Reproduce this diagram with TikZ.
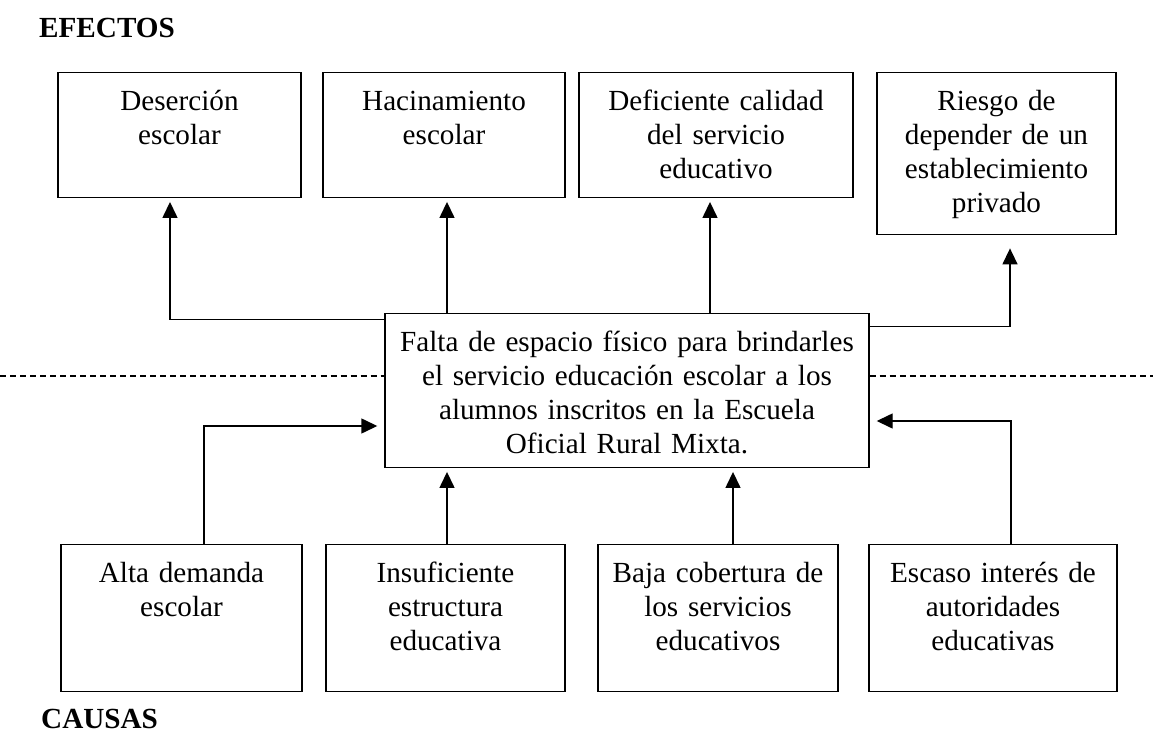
\documentclass[tikz,border=0pt]{standalone}
\usepackage{fontspec}
\setmainfont{Liberation Serif}
\usetikzlibrary{arrows.meta, positioning, calc}
\newcommand{\cuerpo}{\fontsize{16.6}{19.3}\selectfont}

\begin{document}
\begin{tikzpicture}[font=\cuerpo]
    \tikzset{
        caja/.style={rectangle, draw, line width=0.8pt, inner xsep=0pt,
            inner ysep=8.5pt, text height=13.5pt, align=center},
        efecto/.style={caja, text width=4.84cm, text depth=40.9pt},
        causa/.style={caja, text width=4.8cm, text depth=53.4pt},
        flecha/.style={line width=0.8pt, shorten >=2pt,
            -{Triangle[length=0.32cm, width=0.3cm]}},
        corte/.style={line width=0.7pt, dash pattern=on 3.4pt off 2.3pt},
        titulo/.style={anchor=base west, font=\cuerpo\bfseries}
    }
    \useasboundingbox (0,0) rectangle (23.06,-14.64);
    % efectos
    \node[titulo] (tefe) at (0.66,-0.76) {EFECTOS};
    \node[efecto, text width=4.86cm] (e1) at (3.59,-2.70) {Deserción\\escolar};
    \node[efecto] (e2) at (8.88,-2.70) {Hacinamiento\\escolar};
    \node[efecto, text width=5.48cm] (e3) at (14.32,-2.70)
        {Deficiente calidad\\del servicio\\educativo};
    \node[efecto, text width=4.78cm, text depth=61.9pt] (e4) at (19.93,-3.07)
        {Riesgo de\\depender de un\\establecimiento\\privado};
    % problema central
    \node[caja, text width=9.68cm, text depth=57.4pt] (prob) at (12.54,-7.81)
        {Falta de espacio físico para brindarles\\el servicio educación escolar a los\\alumnos inscritos en la Escuela\\Oficial Rural Mixta.};
    % causas
    \node[causa, text width=4.82cm] (c1) at (3.63,-12.36) {Alta demanda\\escolar};
    \node[causa, text width=4.78cm] (c2) at (8.91,-12.36)
        {Insuficiente\\estructura\\educativa};
    \node[causa] (c3) at (14.36,-12.36)
        {Baja cobertura de\\los servicios\\educativos};
    \node[causa, text width=4.96cm] (c4) at (19.86,-12.36)
        {Escaso interés de\\autoridades\\educativas};
    \node[titulo] (tcau) at (0.70,-14.56) {CAUSAS};
    % linea de corte
    \coordinate (izq) at (0,-7.52);
    \coordinate (der) at (23.06,-7.52);
    \draw[corte] (izq) -- (izq -| prob.west);
    \draw[corte] (der -| prob.east) -- (der);
    % flechas hacia los efectos
    \draw[flecha] ([yshift=-0.14cm]prob.north west) -| ([xshift=-0.19cm]e1.south);
    \draw[flecha] ([xshift=0.06cm]e2.south |- prob.north) -- ([xshift=0.06cm]e2.south);
    \draw[flecha] ([xshift=-0.12cm]e3.south |- prob.north) -- ([xshift=-0.12cm]e3.south);
    \draw[flecha, shorten >=0.26cm] ([yshift=-0.28cm]prob.north east)
        -| ([xshift=0.27cm]e4.south);
    % flechas desde las causas
    \draw[flecha, shorten >=0.14cm] ([xshift=0.45cm]c1.north)
        |- ([yshift=-0.71cm]prob.west);
    \draw[flecha] ([xshift=0.03cm]c2.north) -- ([xshift=0.03cm]c2.north |- prob.south);
    \draw[flecha] ([xshift=0.3cm]c3.north) -- ([xshift=0.3cm]c3.north |- prob.south);
    \draw[flecha, shorten >=0.14cm] ([xshift=0.36cm]c4.north)
        |- ([yshift=-0.61cm]prob.east);
\end{tikzpicture}
\end{document}
